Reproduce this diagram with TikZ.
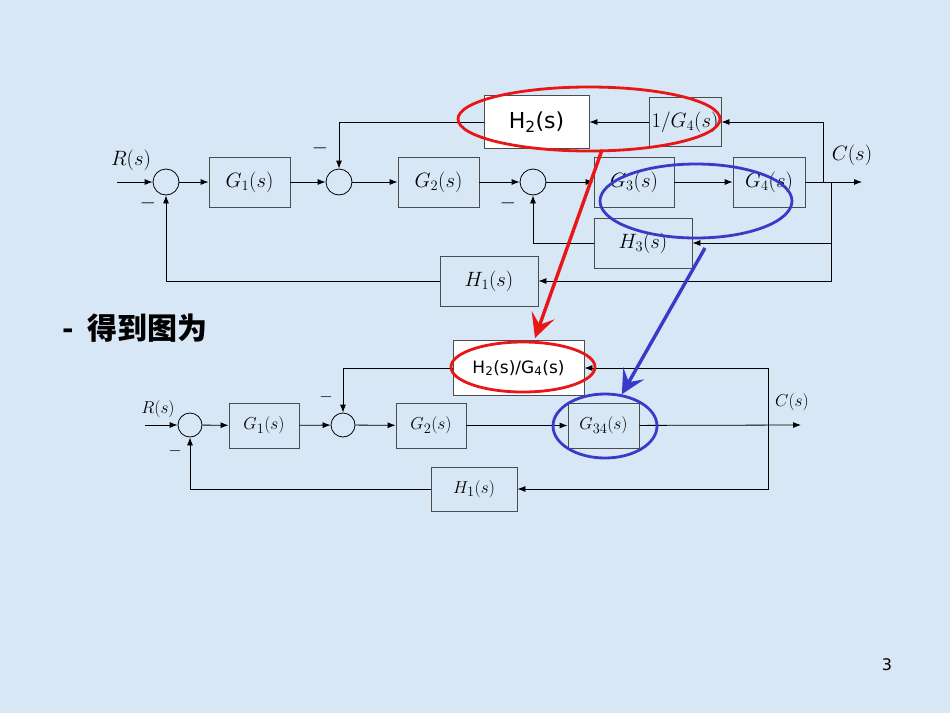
\documentclass[tikz,border=0pt]{standalone}
\usepackage{fontspec}
\setsansfont{DejaVu Sans}
\newfontfamily\cjk{Noto Sans CJK SC}
\usetikzlibrary{arrows.meta,shapes.geometric}

\definecolor{slidebg}{RGB}{216,231,246}
\definecolor{ringred}{RGB}{232,22,22}
\definecolor{ringblue}{RGB}{58,58,200}

\begin{document}
\begin{tikzpicture}[
    x=1pt, y=-1pt,
    >={Latex[length=8pt,width=6pt]},
    blk/.style={draw=black!70,line width=0.8pt,minimum width=80pt,minimum height=50pt,
                inner sep=1pt,font=\fontsize{22}{24}\selectfont},
    sblk/.style={blk,minimum width=70pt,minimum height=45pt,font=\fontsize{19}{21}\selectfont},
    wblk/.style={blk,fill=white,font=\sffamily\fontsize{22}{24}\selectfont},
    sumnode/.style={circle,draw,line width=0.8pt,minimum size=26pt,inner sep=0pt},
    ssum/.style={sumnode,minimum size=24pt},
    sig/.style={->,line width=0.8pt},
    lbl/.style={font=\fontsize{22}{24}\selectfont,inner sep=0pt},
    slbl/.style={font=\fontsize{19}{21}\selectfont,inner sep=0pt},
    ring/.style={ellipse,draw,line width=2.8pt,inner sep=0pt},
    hint/.style={-{Stealth[length=24pt,width=24pt,inset=10pt]},line width=3.4pt},
  ]

  % --- slide background ---
  \fill[slidebg] (0,0) rectangle (950,713);
  \useasboundingbox (0,0) rectangle (950,713);

  % --- top diagram: forward path ---
  \node[sumnode] (s1) at (166,182) {};
  \node[blk,minimum width=81pt] (g1) at (249.5,182) {$G_1(s)$};
  \node[sumnode] (s2) at (339,182) {};
  \node[blk,minimum width=81pt] (g2) at (438.5,182) {$G_2(s)$};
  \node[sumnode] (s3) at (533,182) {};
  \node[blk] (g3) at (634,182) {$G_3(s)$};
  \node[blk,minimum width=72pt] (g4) at (769,182) {$G_4(s)$};

  % --- top diagram: feedback blocks ---
  \node[blk,minimum width=72pt,minimum height=49pt,font=\fontsize{20}{22}\selectfont] (ig4) at (685,122) {$1/G_4(s)$};
  \node[wblk,minimum width=105pt,minimum height=53pt] (h2) at (536.5,122) {H\textsubscript{2}(s)};
  \node[blk,minimum width=98pt] (h3) at (643,243) {$H_3(s)$};
  \node[blk,minimum width=98pt] (h1) at (489,281) {$H_1(s)$};

  \node[lbl] (rtop) at (131,160) {$R(s)$};
  \node[lbl] (ctop) at (852,155) {$C(s)$};
  \node[lbl] (m1) at (148,203) {$-$};
  \node[lbl] (m2) at (320,148) {$-$};
  \node[lbl] (m3) at (508,203) {$-$};

  \coordinate (in1) at (117,182);
  \coordinate (out1) at (862,182);
  \coordinate (tap1) at (823,182);
  \coordinate (tap2) at (831,182);

  \draw[sig] (in1) -- (s1);
  \draw[sig] (s1) -- (g1);
  \draw[sig] (g1) -- (s2);
  \draw[sig] (s2) -- (g2);
  \draw[sig] (g2) -- (s3);
  \draw[sig] (s3) -- (g3);
  \draw[sig] (g3) -- (g4);
  \draw[sig] (g4) -- (out1);
  \draw[sig] (tap1) |- (ig4);
  \draw[sig] (ig4) -- (h2);
  \draw[sig] (h2) -| (s2);
  \draw[sig] (tap2) |- (h3);
  \draw[sig] (tap2) |- (h1);
  \draw[sig] (h3) -| (s3);
  \draw[sig] (h1) -| (s1);

  % --- caption line ---
  \node[anchor=west,inner sep=0pt,font=\cjk\bfseries\fontsize{30}{32}\selectfont] (cap) at (62,328) {-\hspace{14pt}得到图为};

  % --- bottom diagram ---
  \node[ssum] (t1) at (190,425) {};
  \node[sblk] (k1) at (264,425.5) {$G_1(s)$};
  \node[ssum] (t2) at (343,425) {};
  \node[sblk] (k2) at (431,425.5) {$G_2(s)$};
  \node[sblk,minimum width=71pt] (k34) at (603.5,425.5) {$G_{34}(s)$};
  \node[sblk,fill=white,minimum width=131pt,minimum height=55pt,
        font=\sffamily\fontsize{17}{19}\selectfont] (h24) at (518.5,368) {H\textsubscript{2}(s)/G\textsubscript{4}(s)};
  \node[sblk,minimum width=86pt,minimum height=44pt] (k1h) at (474,489) {$H_1(s)$};

  \node[slbl] (rbot) at (158,409) {$R(s)$};
  \node[slbl] (cbot) at (792,402) {$C(s)$};
  \node[slbl] (n1) at (175,451) {$-$};
  \node[slbl] (n2) at (326,397) {$-$};

  \coordinate (in2) at (145,425);
  \coordinate (out2) at (801,425);
  \coordinate (tap3) at (768,425);

  \draw[sig] (in2) -- (t1);
  \draw[sig] (t1) -- (k1);
  \draw[sig] (k1) -- (t2);
  \draw[sig] (t2) -- (k2);
  \draw[sig] (k2) -- (k34);
  \draw[sig] (k34) -- (out2);
  \draw[sig] (tap3) |- (h24);
  \draw[sig] (h24) -| (t2);
  \draw[sig] (tap3) |- (k1h);
  \draw[sig] (k1h) -| (t1);

  % --- highlight rings and pointers ---
  \node[ring,draw=ringred,minimum width=262pt,minimum height=64pt] (redtop) at (589,119) {};
  \node[ring,draw=ringblue,minimum width=192pt,minimum height=74pt] (bluetop) at (696,201) {};
  \node[ring,draw=ringred,minimum width=144pt,minimum height=50pt] (redbot) at (523,367) {};
  \node[ring,draw=ringblue,minimum width=104pt,minimum height=64pt] (bluebot) at (605,426) {};

  \coordinate (redfrom) at (602,150);
  \coordinate (redto) at (535,338);
  \coordinate (bluefrom) at (705,248);
  \draw[hint,ringred] (redfrom) -- (redto);
  \draw[hint,ringblue] (bluefrom) -- (bluebot.62);

  % --- page number ---
  \node[font=\sffamily\fontsize{16}{18}\selectfont] (pg) at (887,665) {3};

\end{tikzpicture}
\end{document}
